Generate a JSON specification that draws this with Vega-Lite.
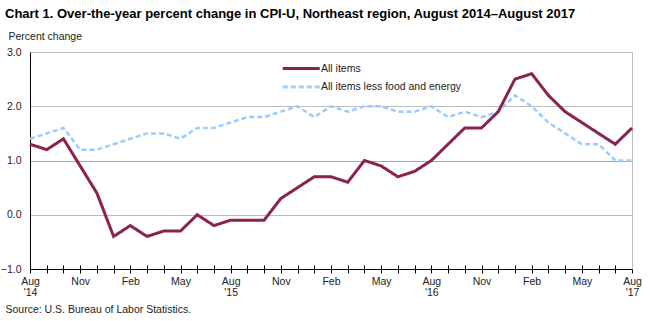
{
  "$schema": "https://vega.github.io/schema/vega-lite/v6.json",
  "width": 602,
  "height": 217,
  "autosize": {"type": "none"},
  "padding": {"left": 30, "top": 52, "right": 18, "bottom": 52},
  "background": "white",
  "title": {
    "text": "Chart 1. Over-the-year percent change in CPI-U, Northeast region, August 2014–August 2017",
    "anchor": "start",
    "frame": "group",
    "dx": -25,
    "offset": 0,
    "baseline": "alphabetic",
    "font": "Liberation Sans",
    "fontSize": 13,
    "fontWeight": "bold",
    "color": "#000000"
  },
  "data": {
    "values": [
      {"month": "2014-08", "All items": 1.3, "All items less food and energy": 1.4},
      {"month": "2014-09", "All items": 1.2, "All items less food and energy": 1.5},
      {"month": "2014-10", "All items": 1.4, "All items less food and energy": 1.6},
      {"month": "2014-11", "All items": 0.9, "All items less food and energy": 1.2},
      {"month": "2014-12", "All items": 0.4, "All items less food and energy": 1.2},
      {"month": "2015-01", "All items": -0.4, "All items less food and energy": 1.3},
      {"month": "2015-02", "All items": -0.2, "All items less food and energy": 1.4},
      {"month": "2015-03", "All items": -0.4, "All items less food and energy": 1.5},
      {"month": "2015-04", "All items": -0.3, "All items less food and energy": 1.5},
      {"month": "2015-05", "All items": -0.3, "All items less food and energy": 1.4},
      {"month": "2015-06", "All items": 0.0, "All items less food and energy": 1.6},
      {"month": "2015-07", "All items": -0.2, "All items less food and energy": 1.6},
      {"month": "2015-08", "All items": -0.1, "All items less food and energy": 1.7},
      {"month": "2015-09", "All items": -0.1, "All items less food and energy": 1.8},
      {"month": "2015-10", "All items": -0.1, "All items less food and energy": 1.8},
      {"month": "2015-11", "All items": 0.3, "All items less food and energy": 1.9},
      {"month": "2015-12", "All items": 0.5, "All items less food and energy": 2.0},
      {"month": "2016-01", "All items": 0.7, "All items less food and energy": 1.8},
      {"month": "2016-02", "All items": 0.7, "All items less food and energy": 2.0},
      {"month": "2016-03", "All items": 0.6, "All items less food and energy": 1.9},
      {"month": "2016-04", "All items": 1.0, "All items less food and energy": 2.0},
      {"month": "2016-05", "All items": 0.9, "All items less food and energy": 2.0},
      {"month": "2016-06", "All items": 0.7, "All items less food and energy": 1.9},
      {"month": "2016-07", "All items": 0.8, "All items less food and energy": 1.9},
      {"month": "2016-08", "All items": 1.0, "All items less food and energy": 2.0},
      {"month": "2016-09", "All items": 1.3, "All items less food and energy": 1.8},
      {"month": "2016-10", "All items": 1.6, "All items less food and energy": 1.9},
      {"month": "2016-11", "All items": 1.6, "All items less food and energy": 1.8},
      {"month": "2016-12", "All items": 1.9, "All items less food and energy": 1.9},
      {"month": "2017-01", "All items": 2.5, "All items less food and energy": 2.2},
      {"month": "2017-02", "All items": 2.6, "All items less food and energy": 2.0},
      {"month": "2017-03", "All items": 2.2, "All items less food and energy": 1.7},
      {"month": "2017-04", "All items": 1.9, "All items less food and energy": 1.5},
      {"month": "2017-05", "All items": 1.7, "All items less food and energy": 1.3},
      {"month": "2017-06", "All items": 1.5, "All items less food and energy": 1.3},
      {"month": "2017-07", "All items": 1.3, "All items less food and energy": 1.0},
      {"month": "2017-08", "All items": 1.6, "All items less food and energy": 1.0}
    ]
  },
  "transform": [
    {"fold": ["All items", "All items less food and energy"], "as": ["series", "value"]}
  ],
  "encoding": {
    "x": {
      "field": "month",
      "type": "ordinal",
      "scale": {"type": "point", "padding": 0},
      "axis": {
        "title": "Source: U.S. Bureau of Labor Statistics.",
        "titleX": -25,
        "titleY": 47.7,
        "titleAlign": "left",
        "titleAnchor": "start",
        "titleBaseline": "alphabetic",
        "titleFont": "Liberation Sans",
        "titleFontSize": 10.5,
        "titleFontWeight": "normal",
        "titleColor": "#222222",
        "domain": false,
        "offset": -4,
        "ticks": true,
        "tickSize": 8,
        "tickColor": "#000000",
        "tickWidth": 1,
        "labelAngle": 0,
        "labelPadding": 3,
        "labelLineHeight": 11,
        "labelFont": "Liberation Sans",
        "labelFontSize": 10.5,
        "labelColor": "#222222",
        "labelOverlap": false,
        "labelExpr": "slice(datum.value,5)=='08' ? ['Aug', \"'\" + slice(datum.value,2,4)] : slice(datum.value,5)=='11' ? 'Nov' : slice(datum.value,5)=='02' ? 'Feb' : slice(datum.value,5)=='05' ? 'May' : ''"
      }
    },
    "color": {
      "field": "series",
      "type": "nominal",
      "scale": {"domain": ["All items", "All items less food and energy"], "range": ["#8B2252", "#99CCFF"]}
    },
    "strokeDash": {
      "field": "series",
      "type": "nominal",
      "scale": {"domain": ["All items", "All items less food and energy"], "range": [[1, 0], [5, 3]]}
    }
  },
  "layer": [
    {
      "transform": [{"filter": "datum.series == 'All items less food and energy'"}],
      "mark": {"type": "line", "strokeWidth": 2.5},
      "encoding": {
        "y": {
          "field": "value",
          "type": "quantitative",
          "scale": {"domain": [-1, 3], "nice": false},
          "axis": {
            "title": "Percent change",
            "titleAngle": 0,
            "titleX": -22,
            "titleY": -12.7,
            "titleAlign": "left",
            "titleAnchor": null,
            "titleBaseline": "alphabetic",
            "titleFont": "Liberation Sans",
            "titleFontSize": 10.5,
            "titleFontWeight": "normal",
            "titleColor": "#222222",
            "values": [-1, 0, 1, 2, 3],
            "format": ".1f",
            "domain": true,
            "domainColor": "#000000",
            "ticks": false,
            "labelPadding": 9,
            "labelFont": "Liberation Sans",
            "labelFontSize": 10.5,
            "labelColor": "#222222",
            "grid": true,
            "gridColor": {
              "condition": [
                {"test": "datum.value == -1", "value": "#000000"},
                {"test": "datum.value == 1", "value": "#CC9988"}
              ],
              "value": "#BDBDBD"
            },
            "gridWidth": 1
          }
        }
      }
    },
    {
      "transform": [{"filter": "datum.series == 'All items'"}],
      "mark": {"type": "line", "strokeWidth": 3},
      "encoding": {
        "y": {
          "field": "value",
          "type": "quantitative",
          "axis": {
            "orient": "right",
            "title": null,
            "labels": false,
            "ticks": false,
            "grid": false,
            "domain": true,
            "domainColor": "#BDBDBD"
          }
        }
      }
    }
  ],
  "resolve": {"axis": {"y": "independent"}},
  "config": {
    "view": {"stroke": null},
    "font": "Liberation Sans",
    "legend": {
      "orient": "none",
      "legendX": 251,
      "legendY": 5.5,
      "title": null,
      "direction": "vertical",
      "symbolType": "M-1,0H3",
      "symbolSize": 342,
      "symbolStrokeWidth": 3,
      "labelFont": "Liberation Sans",
      "labelFontSize": 10.5,
      "labelColor": "#222222",
      "labelOffset": 18,
      "rowPadding": 1.6
    }
  }
}
